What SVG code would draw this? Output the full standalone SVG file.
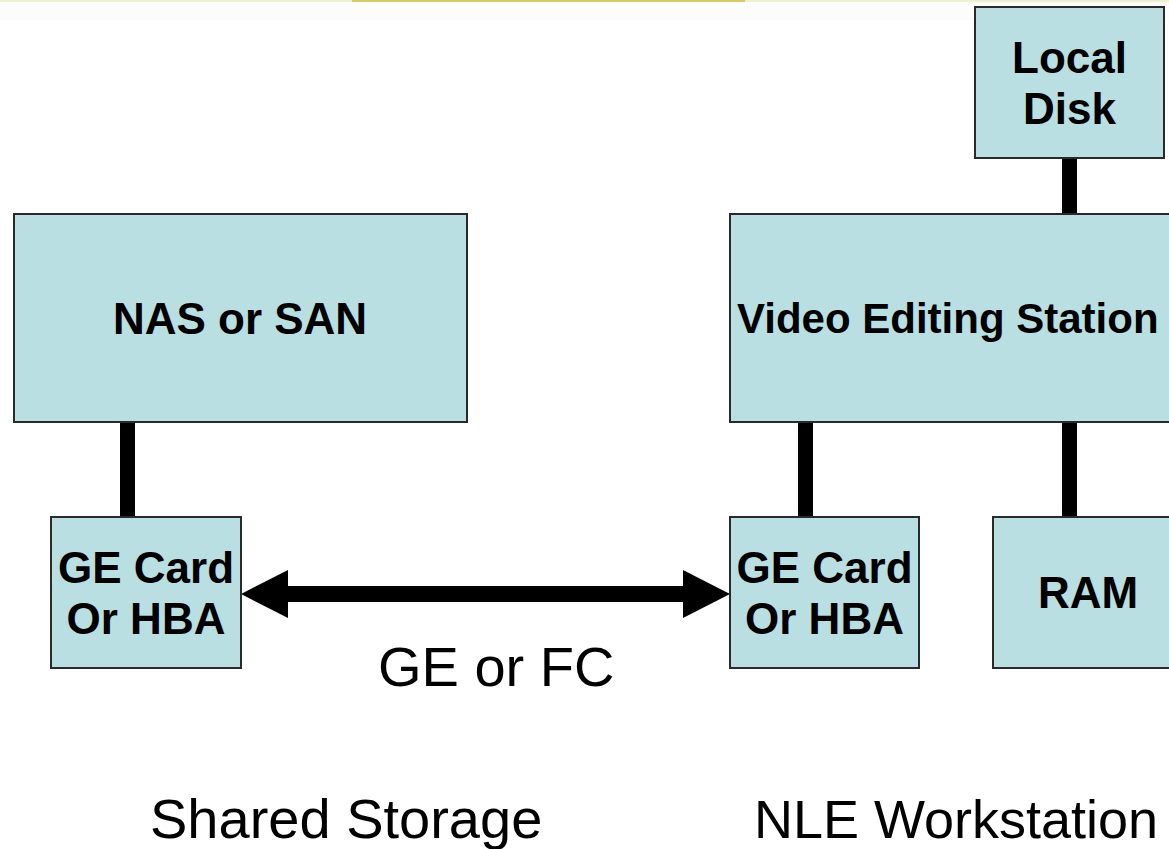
<svg xmlns="http://www.w3.org/2000/svg" width="1169" height="849" viewBox="0 0 1169 849">
<style>
.box{fill:#B9DFE2;stroke:#2a2a2a;stroke-width:2}
.lbl{font-family:"Liberation Sans",Arial,sans-serif;font-weight:bold;font-size:44px;fill:#000;text-anchor:middle}
.cap{font-family:"Liberation Sans",Arial,sans-serif;font-size:56px;fill:#000}
.wire{fill:#000}
</style>
<rect x="0" y="0" width="1169" height="849" fill="#fff"/>
<g id="topband">
<rect x="0" y="0" width="1169" height="20" fill="#FCFCFA"/>
<rect x="0" y="0" width="1169" height="2" fill="#EEF0D0"/>
<rect x="352" y="0" width="393" height="2" fill="#D4CC6A"/>
</g>
<g id="connectors">
<rect class="wire" x="120" y="422" width="15" height="95"/>
<rect class="wire" x="1062" y="158" width="15" height="56"/>
<rect class="wire" x="798" y="422" width="15" height="95"/>
<rect class="wire" x="1062" y="422" width="15" height="95"/>
<path class="wire" d="M241,594 L288,570 L288,586 L683,586 L683,570 L730,594 L683,618 L683,602 L288,602 L288,618 Z"/>
</g>
<g id="nas">
<rect class="box" x="14" y="214" width="453" height="208"/>
<text class="lbl" x="240" y="334">NAS or SAN</text>
</g>
<g id="ge-left">
<rect class="box" x="51" y="517" width="190" height="151"/>
<text class="lbl" x="146" y="583">GE Card</text>
<text class="lbl" x="146" y="634">Or HBA</text>
</g>
<g id="station">
<rect class="box" x="730" y="214" width="460" height="208"/>
<text class="lbl" x="737" y="333" style="text-anchor:start;font-size:42px">Video Editing Station</text>
</g>
<g id="local-disk">
<rect class="box" x="975" y="7" width="189" height="151"/>
<text class="lbl" x="1069.5" y="73">Local</text>
<text class="lbl" x="1069.5" y="124">Disk</text>
</g>
<g id="ge-right">
<rect class="box" x="730" y="517" width="189" height="151"/>
<text class="lbl" x="824.5" y="583">GE Card</text>
<text class="lbl" x="824.5" y="634">Or HBA</text>
</g>
<g id="ram">
<rect class="box" x="993" y="517" width="190" height="151"/>
<text class="lbl" x="1088" y="608">RAM</text>
</g>
<g id="captions">
<text class="cap" x="378" y="686">GE or FC</text>
<text class="cap" x="150" y="838">Shared Storage</text>
<text class="cap" x="754" y="838" style="font-size:54px">NLE Workstation</text>
</g>
</svg>
